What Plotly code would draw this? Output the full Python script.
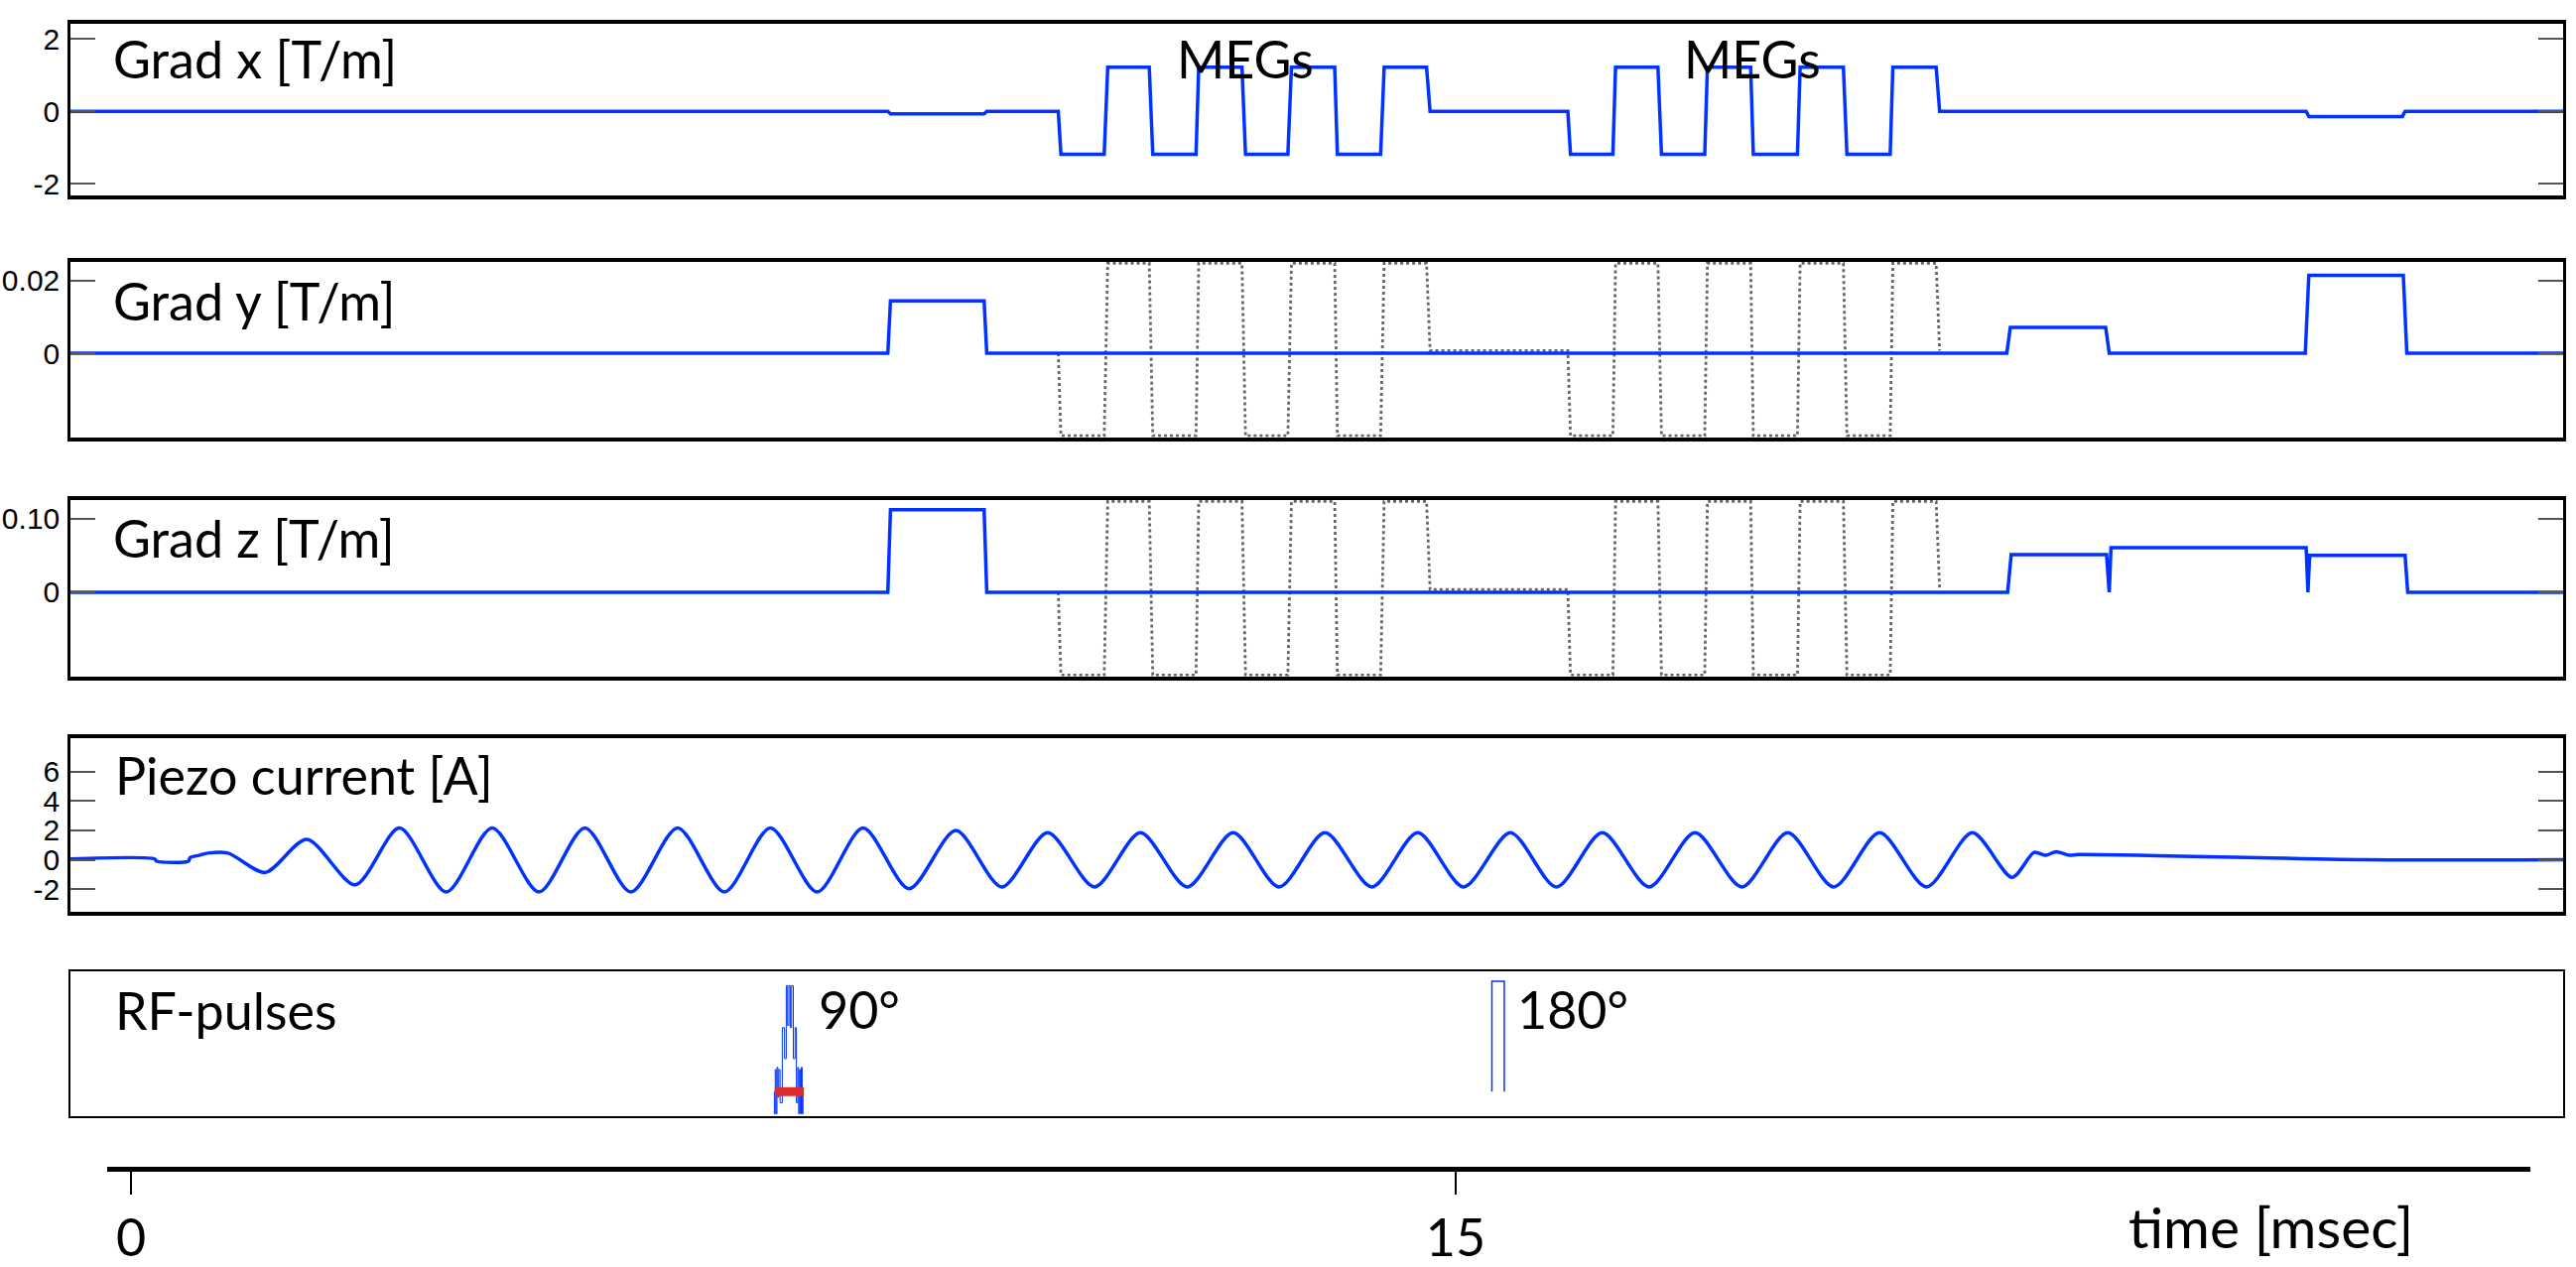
import plotly.graph_objects as go

W, H = 2596, 1277

# ---------------- data (time in ms) ----------------
gx_t = [-0.69, 8.57, 8.60, 9.66, 9.69, 10.50, 10.53, 11.02, 11.06, 11.53, 11.57, 12.06, 12.09,
        12.58, 12.62, 13.10, 13.14, 13.63, 13.66, 14.15, 14.19, 14.67, 14.71, 16.27, 16.30,
        16.78, 16.81, 17.29, 17.33, 17.82, 17.85, 18.34, 18.37, 18.87, 18.90, 19.39, 19.43,
        19.92, 19.95, 20.44, 20.48, 24.63, 24.66, 25.72, 25.75, 27.54]
gx_v = [0, 0, -0.07, -0.07, 0, 0, -1.18, -1.18, 1.22, 1.22, -1.18, -1.18, 1.22, 1.22, -1.18,
        -1.18, 1.22, 1.22, -1.18, -1.18, 1.22, 1.22, 0, 0, -1.18, -1.18, 1.22, 1.22, -1.18,
        -1.18, 1.22, 1.22, -1.18, -1.18, 1.22, 1.22, -1.18, -1.18, 1.22, 1.22, 0, 0, -0.14,
        -0.14, 0, 0]

# MEG pattern (normalised -1..1), shown dotted on y and z panels
meg_t = [10.50, 10.53, 11.02, 11.06, 11.53, 11.57, 12.06, 12.09, 12.58, 12.62, 13.10, 13.14,
         13.63, 13.66, 14.15, 14.19, 14.67, 14.71, 16.27, 16.30, 16.78, 16.81, 17.29, 17.33,
         17.82, 17.85, 18.34, 18.37, 18.87, 18.90, 19.39, 19.43, 19.92, 19.95, 20.44, 20.48]
meg_v = [0, -1, -1, 1, 1, -1, -1, 1, 1, -1, -1, 1, 1, -1, -1, 1, 1, 0.03, 0.03, -1, -1, 1, 1,
         -1, -1, 1, 1, -1, -1, 1, 1, -1, -1, 1, 1, 0.03]

gy_t = [-0.69, 8.57, 8.60, 9.66, 9.69, 21.24, 21.28, 22.36, 22.40, 24.62, 24.66, 25.73, 25.77, 27.54]
gy_v = [0, 0, 0.0144, 0.0144, 0, 0, 0.0071, 0.0071, 0, 0, 0.0214, 0.0214, 0, 0]

gz_t = [-0.69, 8.57, 8.60, 9.66, 9.69, 21.25, 21.29, 22.37, 22.40, 22.42, 24.63, 24.65, 24.67,
        25.75, 25.78, 27.54]
gz_v = [0, 0, 0.112, 0.112, 0, 0, 0.051, 0.051, 0, 0.0605, 0.0605, 0, 0.050, 0.050, 0, 0]

pz_t = [-0.69, 0.27, 0.29, 0.65, 0.67, 0.77, 0.87, 1.10, 1.52, 1.99, 2.54, 3.04, 3.57, 4.09,
        4.62, 5.14, 5.66, 6.19, 6.72, 7.24, 7.77, 8.29, 8.81, 9.34, 9.86, 10.38, 10.91, 11.43,
        11.96, 12.48, 13.00, 13.52, 14.05, 14.57, 15.09, 15.62, 16.14, 16.66, 17.19, 17.71,
        18.24, 18.76, 19.28, 19.80, 20.33, 20.85, 21.30, 21.55, 21.68, 21.80, 21.95, 22.05,
        25.30, 27.54]
pz_v = [0.05, 0.05, -0.1, -0.1, 0.15, 0.3, 0.45, 0.45, -0.87, 1.39, -1.71, 2.17, -2.2, 2.17,
        -2.2, 2.17, -2.2, 2.17, -2.2, 2.17, -2.2, 2.17, -1.98, 1.99, -1.86, 1.84, -1.86, 1.84,
        -1.86, 1.84, -1.86, 1.84, -1.86, 1.84, -1.86, 1.84, -1.86, 1.84, -1.86, 1.84, -1.86,
        1.84, -1.86, 1.84, -1.86, 1.84, -1.2, 0.5, 0.3, 0.55, 0.3, 0.35, 0.0, 0.0]

rf90_t = [7.28, 7.285, 7.295, 7.305, 7.315, 7.325, 7.335, 7.35, 7.375, 7.40, 7.42, 7.435, 7.45,
          7.465, 7.48, 7.50, 7.52, 7.535, 7.55, 7.56, 7.57, 7.58, 7.59, 7.60, 7.61]
rf90_v = [0, -0.2, 0.2, -0.2, 0.22, -0.05, 0.2, -0.1, 0.58, 0.3, 0.96, 0.6, 0.96, 0.58, 0.96,
          0.3, 0.58, -0.1, 0.22, -0.2, 0.2, -0.2, 0.22, -0.2, 0]
rf_window_t = [7.29, 7.62]
rf_window_v = [0, 0]
rf180_t = [15.41, 15.41, 15.55, 15.55]
rf180_v = [0, 1.0, 1.0, 0]

time_ticks = [0, 15]
time_labels = ["0", "15"]

panel_labels = ["Grad x [T/m]", "Grad y [T/m]", "Grad z [T/m]", "Piezo current [A]", "RF-pulses"]

# ---------------- layout geometry (pixels) ----------------
X0, X1 = 71, 2583             # panel left/right edges
T_PX0, PX_PER_MS = 132.0, 89.0
panels_px = [(23, 198), (265, 443), (507, 686), (749, 925), (986, 1133)]
y_ranges = [[-2.33, 2.42], [-0.0230, 0.0251], [-0.114, 0.125], [-3.54, 8.29], [-0.223, 1.087]]


def t_at(px):
    return (px - T_PX0) / PX_PER_MS


def fx(px):
    return px / W


def fy(py):
    return 1 - py / H


BLUE = "#0033ff"
GRAY = "#666666"
TEXT_FONT = "Lato"
TICK_FONT = "Liberation Sans"

fig = go.Figure()

# dotted MEG overlay on panels 2 & 3 (drawn under the blue lines)
for k in (2, 3):
    lo, hi = y_ranges[k - 1]
    vals = [v * hi * 0.985 if v > 0 else -v * lo * 0.985 for v in meg_v]
    fig.add_trace(go.Scatter(x=meg_t, y=vals, mode="lines", xaxis=f"x{k}", yaxis=f"y{k}",
                             line=dict(color=GRAY, width=2.8, dash="dot"), showlegend=False))

fig.add_trace(go.Scatter(x=gx_t, y=gx_v, mode="lines", xaxis="x", yaxis="y",
                         line=dict(color=BLUE, width=3.5), showlegend=False))
fig.add_trace(go.Scatter(x=gy_t, y=gy_v, mode="lines", xaxis="x2", yaxis="y2",
                         line=dict(color=BLUE, width=3.5), showlegend=False))
fig.add_trace(go.Scatter(x=gz_t, y=gz_v, mode="lines", xaxis="x3", yaxis="y3",
                         line=dict(color=BLUE, width=3.5), showlegend=False))
fig.add_trace(go.Scatter(x=pz_t, y=pz_v, mode="lines", xaxis="x4", yaxis="y4",
                         line=dict(color=BLUE, width=3.5, shape="spline", smoothing=0.8),
                         showlegend=False))
fig.add_trace(go.Scatter(x=rf90_t, y=rf90_v, mode="lines", xaxis="x5", yaxis="y5",
                         line=dict(color=BLUE, width=1, shape="hv"), showlegend=False))
fig.add_trace(go.Scatter(x=rf_window_t, y=rf_window_v, mode="lines", xaxis="x5", yaxis="y5",
                         line=dict(color="#dd2b2b", width=9), showlegend=False))
fig.add_trace(go.Scatter(x=rf180_t, y=rf180_v, mode="lines", xaxis="x5", yaxis="y5",
                         line=dict(color=BLUE, width=1.5), showlegend=False))
# bottom time axis carrier
fig.add_trace(go.Scatter(x=time_ticks, y=[0, 0], mode="markers", xaxis="x6", yaxis="y6",
                         marker=dict(opacity=0), showlegend=False, hoverinfo="skip"))

layout = dict(
    width=W, height=H, margin=dict(l=0, r=0, t=0, b=0),
    paper_bgcolor="white", plot_bgcolor="white", showlegend=False,
)

tick_sets = [
    dict(tickvals=[-2, 0, 2], ticktext=["-2", "0", "2"]),
    dict(tickvals=[0, 0.02], ticktext=["0", "0.02"]),
    dict(tickvals=[0, 0.1], ticktext=["0", "0.10"]),
    dict(tickvals=[-2, 0, 2, 4, 6], ticktext=["-2", "0", "2", "4", "6"]),
    None,
]

for i, (top, bot) in enumerate(panels_px):
    n = "" if i == 0 else str(i + 1)
    xw = 2 if i == 4 else 4
    layout[f"xaxis{n}"] = dict(
        domain=[fx(X0), fx(X1)], range=[t_at(X0), t_at(X1)], anchor=f"y{n}",
        showline=True, mirror=True, linecolor="black", linewidth=xw,
        showticklabels=False, ticks="", showgrid=False, zeroline=False, fixedrange=True,
    )
    ya = dict(
        domain=[fy(bot), fy(top)], range=y_ranges[i], anchor=f"x{n}",
        showline=True, mirror="ticks" if tick_sets[i] else True, linecolor="black",
        linewidth=2 if i == 4 else 2.5,
        showgrid=False, zeroline=False, fixedrange=True,
        tickfont=dict(family=TICK_FONT, size=30, color="black"),
    )
    if tick_sets[i]:
        ya.update(tick_sets[i])
        ya.update(ticks="inside", ticklen=25, tickwidth=2, tickcolor="#555555", tickmode="array",
                  ticklabelstandoff=2)
    else:
        ya.update(showticklabels=False, ticks="")
    layout[f"yaxis{n}"] = ya

# bottom time axis
AX_Y = 1184
layout["xaxis6"] = dict(
    domain=[fx(108), fx(2550)], range=[t_at(108), t_at(2550)], anchor="y6",
    showline=True, linecolor="black", linewidth=5, ticks="outside", ticklen=23, tickwidth=2,
    tickcolor="black", tickmode="array", tickvals=time_ticks, ticktext=time_labels,
    tickfont=dict(family=TEXT_FONT, size=52, color="black"), showgrid=False, zeroline=False,
    fixedrange=True, ticklabelstandoff=0,
)
layout["yaxis6"] = dict(domain=[fy(AX_Y), fy(AX_Y - 2)], visible=False, fixedrange=True,
                        anchor="x6")

annots = []


def add_text(text, x, y, size=52, xanchor="left"):
    annots.append(dict(text=text, x=fx(x), y=fy(y), xref="paper", yref="paper",
                       xanchor=xanchor, yanchor="middle", showarrow=False,
                       font=dict(family=TEXT_FONT, size=size, color="black")))


label_pos = [(112, 58), (112, 304), (112, 545), (114, 786), (114, 1025)]
for txt, (x, y) in zip(panel_labels, label_pos):
    add_text(txt, x, y)
add_text("MEGs", 1184, 58)
add_text("MEGs", 1695, 58)
add_text("90°", 823, 1024)
add_text("180°", 1527, 1024)
add_text("time [msec]", 2143, 1245, size=57)

layout["annotations"] = annots
fig.update_layout(**layout)

fig.write_html("out.html", include_plotlyjs=True, config={"displayModeBar": False},
               post_script="document.body.style.margin='0';document.body.style.overflow='hidden';")
